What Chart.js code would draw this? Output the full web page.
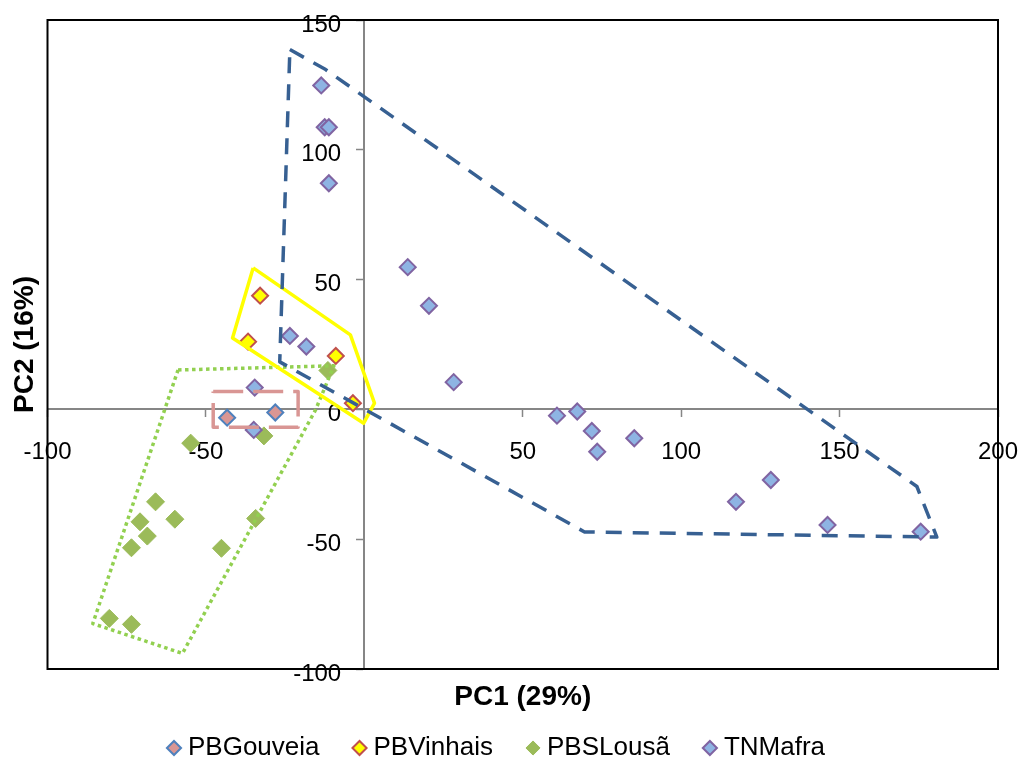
<!DOCTYPE html>
<html><head><meta charset="utf-8">
<script src="https://cdn.jsdelivr.net/npm/chart.js@4/dist/chart.umd.min.js"></script>
<style>html,body{margin:0;padding:0;background:#fff;}canvas{display:block;}</style>
</head><body>
<canvas id="c" width="1022" height="765"></canvas>
<script>
// ---- data ----
const seriesNames = ['PBGouveia', 'PBVinhais', 'PBSLousã', 'TNMafra'];
const xTickLabels = ['-100', '-50', '50', '100', '150', '200'];
const yTickLabels = ['-100', '-50', '0', '50', '100', '150'];

const gouveiaX = [-43.3, -28.1];
const gouveiaY = [-3.2, -1.2];

const vinhaisX = [-32.9, -36.7, -9.0, -3.6];
const vinhaisY = [43.8, 26.1, 20.6, 2.4];

const lousaX = [-11.5, -31.7, -54.8, -65.9, -70.8, -59.8, -68.5, -73.5, -45.1, -34.3, -80.5, -73.5];
const lousaY = [15.0, -10.2, -13.0, -35.6, -43.3, -42.3, -48.8, -53.3, -53.5, -42.0, -80.5, -82.8];

const mafraX = [-13.6, -12.5, -11.2, -11.2, 13.7, 20.4, -23.5, -18.3, -34.6, -34.9, 28.2, 60.8, 67.2, 71.8, 73.5, 85.2, 117.3, 128.3, 146.2, 175.6];
const mafraY = [124.8, 108.7, 108.7, 87.1, 54.8, 39.9, 28.3, 24.2, 8.4, -7.9, 10.5, -2.4, -0.8, -8.3, -16.3, -11.1, -35.6, -27.2, -44.5, -47.1];

// hand-drawn group outlines (closed polygons, vertices in data units)
const mafraHullX = [-23.5, -12.2, 174.4, 180.7, 69.5, -26.7, -23.5];
const mafraHullY = [138.6, 130.9, -29.7, -49.2, -47.2, 18.3, 138.6];

const vinhaisHullX = [-35.1, -4.4, 3.2, -0.2, -41.6, -35.1];
const vinhaisHullY = [54.5, 28.7, 2.4, -5.3, 27.5, 54.5];

const lousaHullX = [-58.8, -9.6, -15.4, -57.4, -85.7, -58.8];
const lousaHullY = [15.2, 16.8, -0.2, -94.0, -82.5, 15.2];

const gouveiaBoxX = [-47.7, -20.9, -20.9, -47.7, -47.7];
const gouveiaBoxY = [6.9, 6.9, -6.9, -6.9, 6.9];

// ---- helpers ----
const pts = (xs, ys) => xs.map((x, i) => ({x, y: ys[i]}));

Chart.defaults.font.family = '"Liberation Sans", Arial, sans-serif';
Chart.defaults.color = '#000';

const pointSet = (label, xs, ys, fill, stroke, bw, r, order) => ({
  label, data: pts(xs, ys), showLine: false, xAxisID: 'x', yAxisID: 'y',
  pointStyle: 'rectRot', pointRadius: r, pointHoverRadius: r,
  backgroundColor: fill, borderColor: stroke, borderWidth: bw, order
});
const outline = (xs, ys, color, width, dash) => ({
  label: '_outline', data: pts(xs, ys), showLine: true, fill: false, xAxisID: 'x', yAxisID: 'y',
  pointRadius: 0, pointHoverRadius: 0, borderColor: color, backgroundColor: color,
  borderWidth: width, borderDash: dash, borderJoinStyle: 'round', tension: 0, order: 0
});

const framePlugin = {
  id: 'frame',
  afterDraw(chart) {
    const {ctx, chartArea: a} = chart;
    ctx.save();
    ctx.strokeStyle = '#000';
    ctx.lineWidth = 2;
    ctx.strokeRect(a.left, a.top, a.right - a.left, a.bottom - a.top);
    ctx.restore();
  }
};

const zeroFit = (s) => {
  if (s.isHorizontal()) s.height = 0; else s.width = 0;
  s.paddingLeft = s.paddingRight = s.paddingTop = s.paddingBottom = 0;
};

const tickFont = {size: 24};

new Chart(document.getElementById('c'), {
  type: 'scatter',
  data: {
    datasets: [
      pointSet(seriesNames[0], gouveiaX, gouveiaY, '#D99694', '#4F81BD', 2, 8, 4),
      pointSet(seriesNames[1], vinhaisX, vinhaisY, '#FFFF00', '#C0504D', 2, 8, 3),
      pointSet(seriesNames[2], lousaX, lousaY, '#9BBB59', '#9BBB59', 1, 9, 2),
      pointSet(seriesNames[3], mafraX, mafraY, '#8EB4E3', '#8064A2', 2, 8, 1),
      outline(mafraHullX, mafraHullY, '#376092', 3.5, [16, 11]),
      outline(vinhaisHullX, vinhaisHullY, '#FFFF00', 3.5, []),
      outline(lousaHullX, lousaHullY, '#92D050', 3.5, [3.5, 3.5]),
      outline(gouveiaBoxX, gouveiaBoxY, '#D99694', 3.5, [30, 10])
    ]
  },
  options: {
    responsive: false,
    devicePixelRatio: 1,
    animation: false,
    layout: {padding: {top: 20, right: 24, bottom: 0, left: 0}},
    scales: {
      x: {
        type: 'linear', min: -100, max: 200,
        position: {y: 0},
        afterFit: zeroFit,
        grid: {drawOnChartArea: false, tickLength: 7, color: '#868686', tickWidth: 1.5},
        border: {display: true, color: '#868686', width: 2},
        ticks: {
          stepSize: 50, padding: 21.5, maxRotation: 0, autoSkip: false,
          font: tickFont, color: '#000',
          callback: (v) => xTickLabels.includes(String(v)) ? String(v) : ''
        }
      },
      // value labels of the vertical axis, set just left of the zero line
      y: {
        type: 'linear', min: -100, max: 150,
        position: {x: -7.3},
        afterFit: zeroFit,
        grid: {display: false, drawOnChartArea: false, drawTicks: false},
        border: {display: false},
        ticks: {
          stepSize: 50, padding: 0, autoSkip: false, labelOffset: 5,
          font: tickFont, color: '#000',
          callback: (v) => yTickLabels.includes(String(v)) ? String(v) : ''
        }
      },
      // the vertical zero line with its tick marks
      y2: {
        type: 'linear', min: -100, max: 150, axis: 'y',
        position: {x: 0},
        afterFit: zeroFit,
        grid: {drawOnChartArea: false, tickLength: 7, color: '#868686', tickWidth: 1.5},
        border: {display: true, color: '#868686', width: 2},
        ticks: {stepSize: 50, display: false}
      }
    },
    plugins: {
      tooltip: {enabled: false},
      title: {
        display: true, text: 'PC2 (16%)', position: 'left', fullSize: false,
        font: {size: 28, weight: 'bold'}, color: '#000',
        padding: {top: 8.2, bottom: 5.7}
      },
      subtitle: {
        display: true, text: 'PC1 (29%)', position: 'bottom', fullSize: false, weight: 500,
        font: {size: 28, weight: 'bold'}, color: '#000',
        padding: {top: 11.2, bottom: -17.8}
      },
      legend: {
        display: true, position: 'bottom', fullSize: true, maxHeight: 69, weight: 1000,
        labels: {
          usePointStyle: true, boxWidth: 2, boxHeight: 10, padding: 39,
          font: {size: 26}, color: '#000',
          filter: (item) => item.text !== '_outline',
          sort: (a, b) => a.datasetIndex - b.datasetIndex
        }
      }
    }
  },
  plugins: [framePlugin]
});
</script>
</body></html>
